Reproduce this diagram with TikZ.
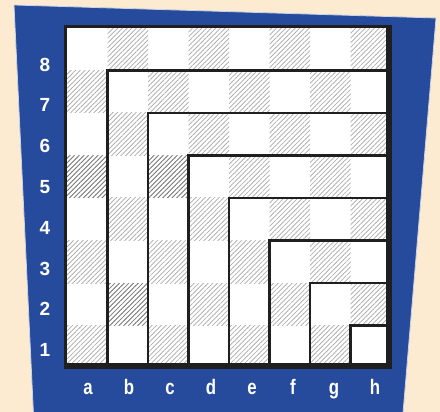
\documentclass[tikz,border=0pt]{standalone}
\usepackage{fontspec}
\setmainfont{Liberation Sans}
\usetikzlibrary{patterns.meta}
\definecolor{cream}{HTML}{FCEBD1}
\definecolor{boardblue}{HTML}{264A9C}

\begin{document}
\begin{tikzpicture}[x=1pt,y=-1pt,
    hatch/.style={pattern={Lines[angle=45,distance=3.3pt,line width=.7pt]},pattern color=black!35},
    darkhatch/.style={pattern={Lines[angle=45,distance=3.3pt,line width=.7pt]},pattern color=black!52},
    rank/.style={text=white,anchor=base,font=\bfseries\fontsize{19}{19}\selectfont},
    file/.style={text=white,anchor=base,xscale=.8,font=\bfseries\fontsize{21}{21}\selectfont}]
    \useasboundingbox (0,0) rectangle (440,412);
    \clip (0,0) rectangle (440,412);
    \fill[cream] (0,0) rectangle (440,412);
    \filldraw[fill=boardblue,draw=white!75!boardblue,line width=.8]
        (14,5) -- (436,18) -- (402,425) -- (34,425) -- cycle;
    \fill[white] (67,28) rectangle (391,368);
    \foreach \i in {0,...,7}
        \foreach \j in {0,...,7} {
            \pgfmathtruncatemacro\odd{mod(\i+\j,2)}
            \ifnum\odd=1
                \fill[hatch] (67+40.5*\i,28+42.5*\j) rectangle ++(40.5,42.5);
            \fi
        }
    \foreach \i/\j in {0/3,2/3,1/6}
        \fill[white] (67+40.5*\i,28+42.5*\j) rectangle ++(40.5,42.5)
            [darkhatch] (67+40.5*\i,28+42.5*\j) rectangle ++(40.5,42.5);
    \foreach \k in {1,...,7}
        \draw[line width=2.6,black!88] (67+40.5*\k,28+42.5*\k) rectangle (388,365);
    \draw[line width=3,black!88] (65.5,26.5) rectangle (389,366);
    \draw[line width=6,black!88] (389,25) |- (64,366);
    \foreach \n in {1,...,8}
        \node[rank] (r\n) at (45,356.7-40.8*\n+40.8) {\n};
    \foreach \f [count=\k from 0] in {a,b,c,d,e,f,g,h}
        \node[file] (f\f) at (88+41*\k,394) {\f};
\end{tikzpicture}
\end{document}
